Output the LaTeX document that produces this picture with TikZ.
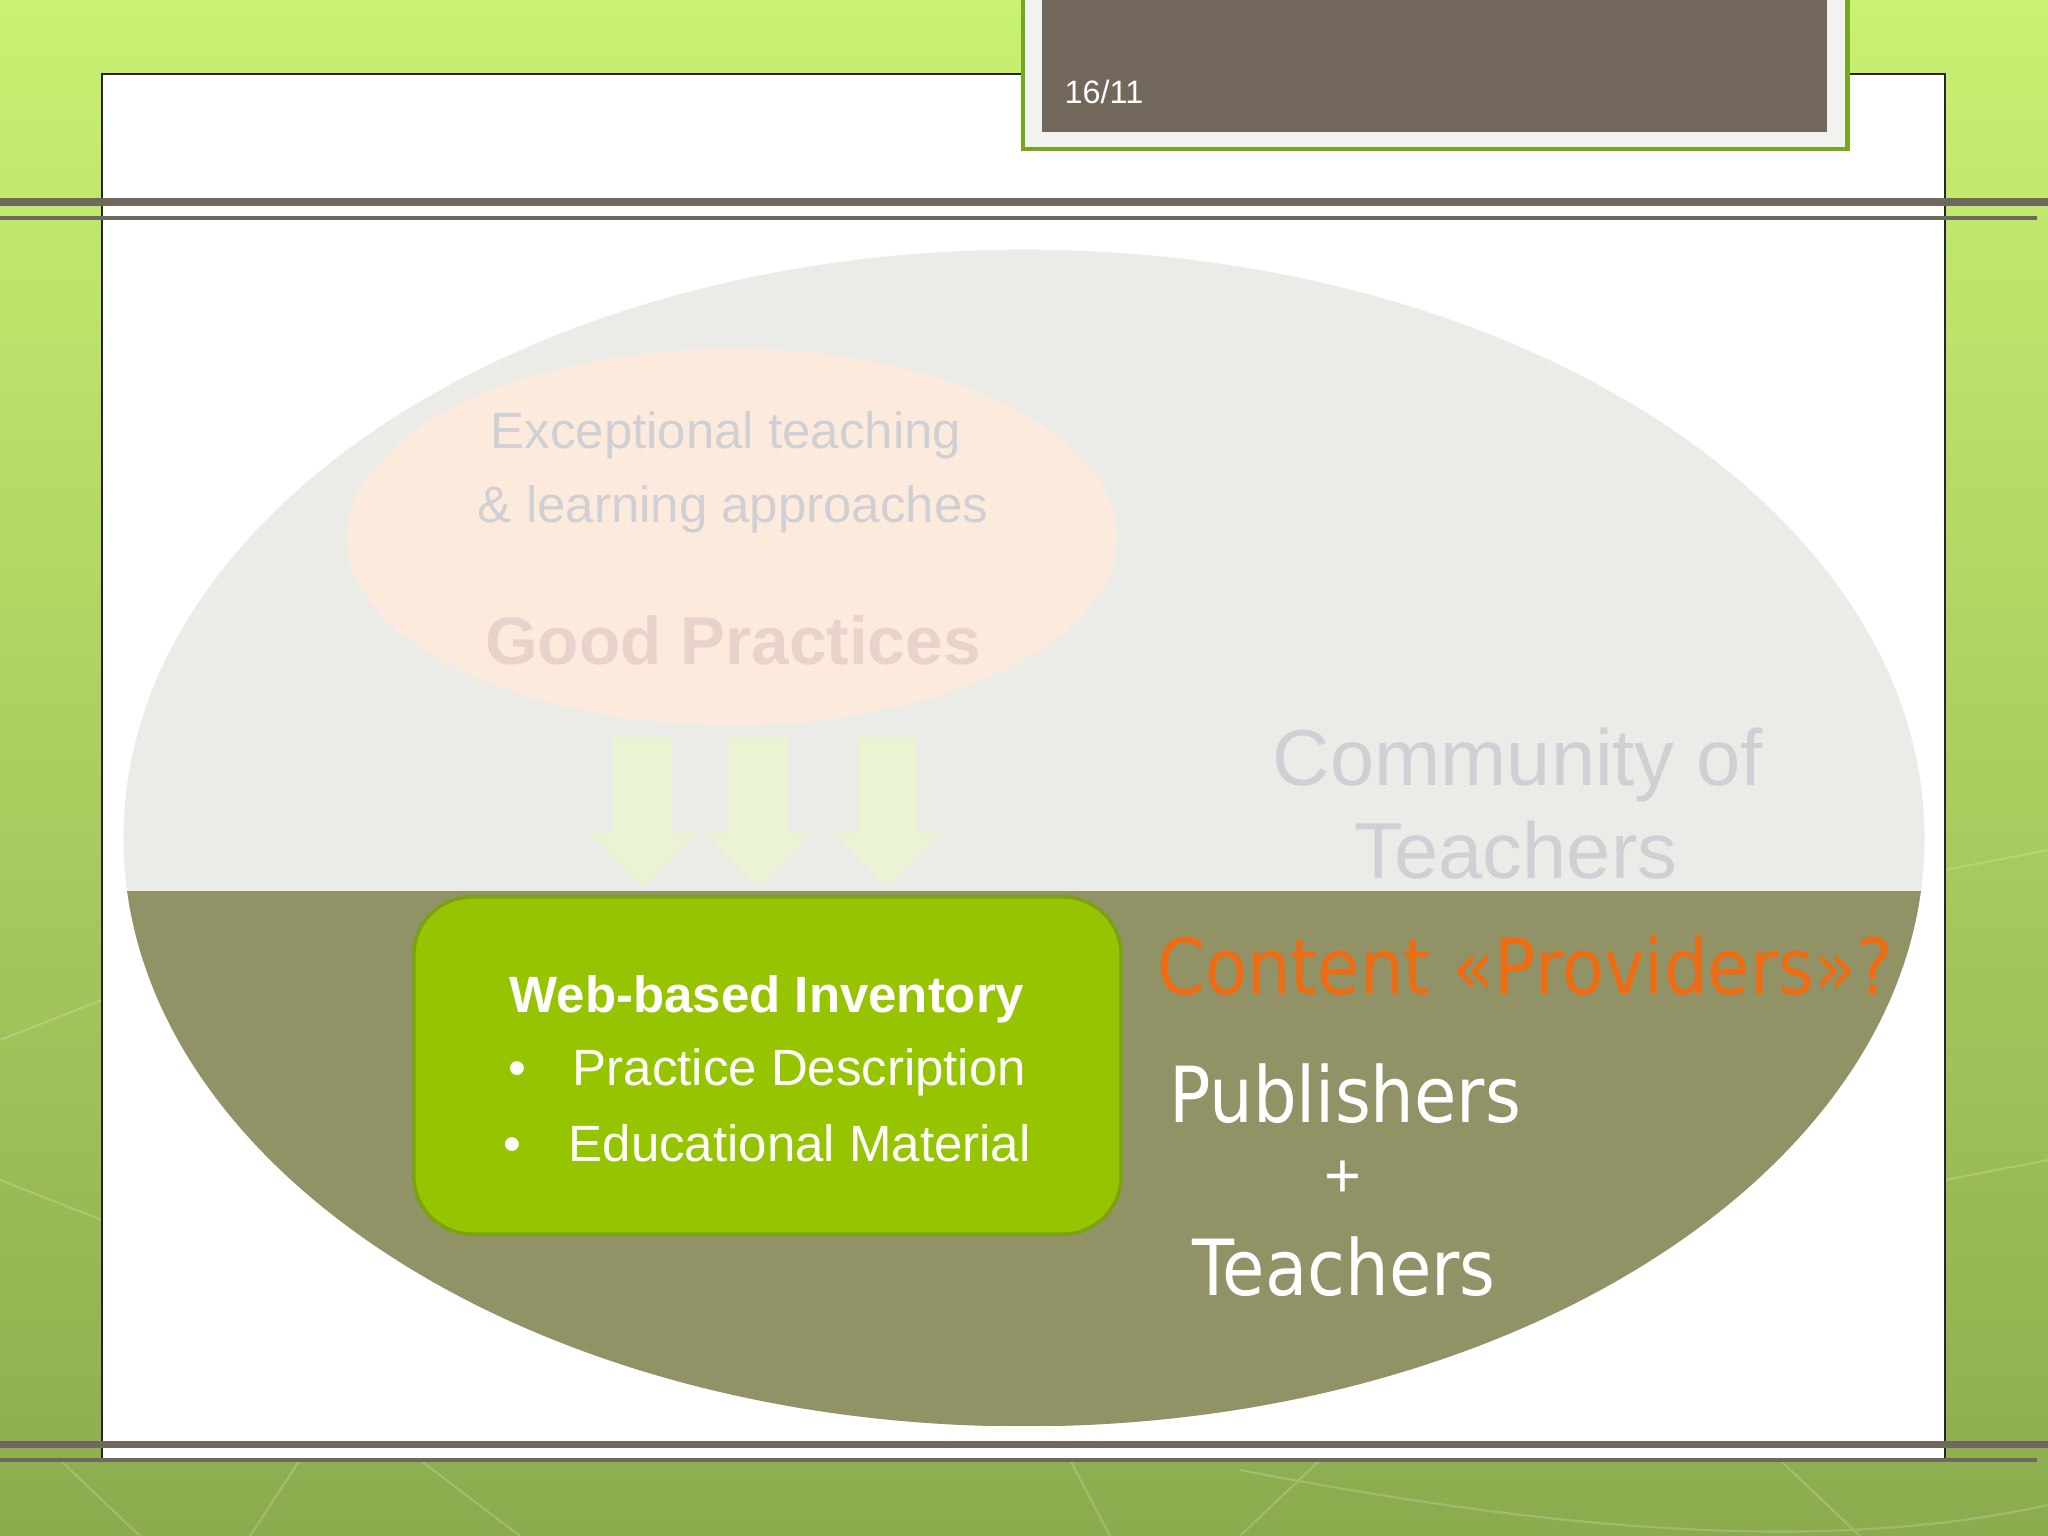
\documentclass[tikz,border=0pt]{standalone}
\usepackage{fontspec}
\setmainfont{Liberation Sans}
\newfontfamily\verdfont{DejaVu Sans}[FakeStretch=0.89]
\usetikzlibrary{shapes.geometric, positioning, calc}

\definecolor{limetop}{HTML}{C9F172}
\definecolor{limemid}{HTML}{A9D657}
\definecolor{limebot}{HTML}{8BAC4E}
\definecolor{rulegray}{HTML}{6F695D}
\definecolor{datebrown}{HTML}{72675B}
\definecolor{dateframe}{HTML}{F2F3F0}
\definecolor{dategreen}{HTML}{76A81E}
\definecolor{paleoval}{HTML}{EBEBE7}
\definecolor{olive}{HTML}{919266}
\definecolor{peach}{HTML}{FCEBDD}
\definecolor{fadegray}{HTML}{D0D0D4}
\definecolor{fadepink}{HTML}{E8D2CB}
\definecolor{palegreen}{HTML}{EAF4D3}
\definecolor{boxgreen}{HTML}{97C400}
\definecolor{boxedge}{HTML}{7BA214}
\definecolor{provorange}{HTML}{EF6C12}

\begin{document}
\begin{tikzpicture}[
    x=0.01cm, y=-0.01cm,
    body/.style={
        text=white,
        inner sep=0pt,
        anchor=base,
        font=\fontsize{14.5}{17}\selectfont
    },
    faded/.style={
        text=fadegray,
        inner sep=0pt,
        anchor=base,
        font=\fontsize{14.5}{17}\selectfont
    },
    provider/.style={
        text=white,
        inner sep=0pt,
        font=\verdfont\fontsize{22}{26}\selectfont
    },
    streak/.style={white, opacity=0.18, line width=0.6pt}
]
    \useasboundingbox (0,0) rectangle (2048,1536);

    % Slide background and white panel
    \shade[top color=limetop, middle color=limemid, bottom color=limebot] (0,0) rectangle (2048,1536);
    \draw[streak] (60,1460) -- (140,1536) (300,1460) -- (250,1536) (420,1460) -- (520,1536)
        (1070,1460) -- (1110,1536) (1320,1460) -- (1240,1536) (1240,1470) .. controls (1500,1520) and (1800,1560) .. (2048,1505)
        (1780,1460) -- (1860,1536) (0,1040) -- (102,1000) (0,1180) -- (102,1220) (1945,870) -- (2048,850) (1945,1180) -- (2048,1160);

    \fill[white] (102,74) rectangle (1945,1460);
    \draw[black!85, line width=0.6pt] (102,1460) -- (102,74) -- (1945,74) -- (1945,1460);

    % Date tab
    \node[draw=dategreen, fill=dateframe, line width=1.2pt, inner sep=0pt,
          minimum width=8.24cm, minimum height=1.7cm, anchor=south west] (tab) at (1021,151) {};
    \node[fill=datebrown, inner sep=0pt, minimum width=7.85cm, minimum height=1.5cm,
          anchor=south west] (tabfill) at (1041,133) {};
    \node[text=white, font=\fontsize{9.2}{11}\selectfont, inner sep=0pt, anchor=base west] (date) at (1064,103) {16/11};

    % Rules
    \draw[rulegray, line width=2pt] (0,202) -- (2048,202);
    \draw[rulegray, line width=0.9pt] (0,218) -- (2037,218);
    \draw[rulegray, line width=2pt] (0,1444) -- (2048,1444);
    \draw[rulegray, line width=0.9pt] (0,1460) -- (2037,1460);

    % Community oval, olive lower half
    \node[ellipse, fill=paleoval, inner sep=0pt, minimum width=18cm, minimum height=11.76cm,
          path picture={\fill[olive] (path picture bounding box.south west)
              rectangle ($(path picture bounding box.east)+(0,53)$);}] (community) at (1024,838) {};

    % Good practices oval
    \node[ellipse, fill=peach, inner sep=0pt, minimum width=7.7cm, minimum height=3.76cm] (practices) at (732,537) {};
    \node[faded] (exceptional) at (726,448) {Exceptional teaching};
    \node[faded] (approaches) at (733,522) {\& learning approaches};
    \node[text=fadepink, inner sep=0pt, anchor=base, font=\bfseries\fontsize{19.2}{23}\selectfont] (good) at (733,664) {Good Practices};

    % Three arrows down
    \foreach \ax in {643,758,887}
        \fill[palegreen] ({\ax-29.5},737) -- ({\ax+29.5},737) -- ({\ax+29.5},833) -- ({\ax+53.5},833)
            -- (\ax,887) -- ({\ax-53.5},833) -- ({\ax-29.5},833) -- cycle;

    % Inventory box
    \node[fill=boxgreen, draw=boxedge, line width=1pt, rounded corners=16.5pt, inner sep=0pt,
          minimum width=7.07cm, minimum height=3.37cm] (inventory) at (767.5,1065.5) {};
    \node[body, font=\bfseries\fontsize{14.5}{17}\selectfont] (invtitle) at (767,1012) {Web-based Inventory};
    \node[body, anchor=base west] (descr) at (572,1085) {Practice Description};
    \node[body, anchor=base west] (material) at (568,1161) {Educational Material};
    \node[body] (dot1) at (517,1085) {\textbullet};
    \node[body] (dot2) at (512,1161) {\textbullet};

    % Community labels
    \node[faded, font=\fontsize{22.6}{27}\selectfont] (commtop) at (1518,785) {Community of};
    \node[faded, font=\fontsize{22.6}{27}\selectfont] (commbot) at (1516,878) {Teachers};

    % Providers
    \node[provider, text=provorange] (content) at (1525,966) {Content «Providers»?};
    \node[provider] (publishers) at (1345,1094) {Publishers};
    \node[text=white, inner sep=0pt, font=\fontsize{18}{22}\selectfont] (plus) at (1343,1179) {+};
    \node[provider] (teachers) at (1344,1267) {Teachers};
\end{tikzpicture}
\end{document}
